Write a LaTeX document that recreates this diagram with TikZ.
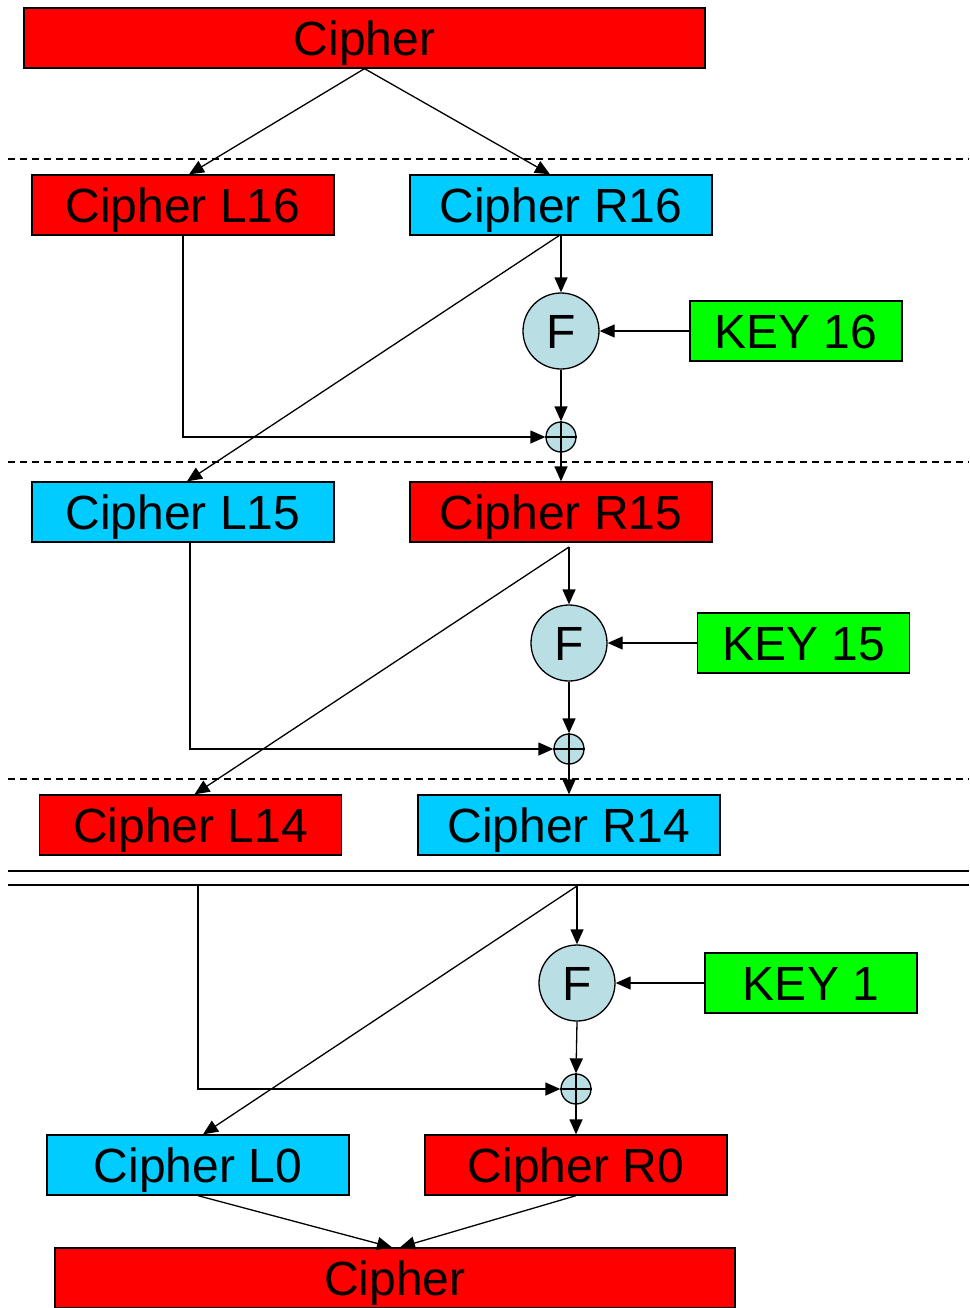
\documentclass[tikz,border=0pt]{standalone}
\usepackage{fontspec}
\setmainfont{Liberation Sans}
\usetikzlibrary{arrows.meta}
\definecolor{cred}{RGB}{255,0,0}
\definecolor{ccyan}{RGB}{0,204,255}
\definecolor{cgreen}{RGB}{0,255,0}
\definecolor{cfun}{RGB}{185,222,228}
\begin{document}
\begin{tikzpicture}[x=1pt,y=-1pt,
  every node/.style={font=\fontsize{48}{56}\selectfont, inner sep=0pt, text height=34.4pt, text depth=0pt},
  box/.style={draw=black, line width=1.3pt, minimum width=302pt, minimum height=60pt},
  redbox/.style={box, fill=cred},
  cyanbox/.style={box, fill=ccyan},
  keybox/.style={draw=black, line width=1.3pt, fill=cgreen, minimum width=212pt, minimum height=60pt},
  fun/.style={circle, draw=black, line width=1.3pt, fill=cfun, minimum size=76pt},
  xorn/.style={circle, draw=black, line width=1.3pt, fill=cfun, minimum size=30pt, text height=0pt},
  arr/.style={line width=1.3pt, -{Triangle[length=15pt,width=13pt]}},
  ln/.style={line width=1.3pt},
  sep/.style={line width=1.3pt, dash pattern=on 7pt off 5pt}
]
\useasboundingbox (0,0) rectangle (969,1308);

% top cipher
\node[box, fill=cred, minimum width=681pt] (C0) at (364.5,38) {Cipher};

% separators
\draw[sep] (8,159) -- (969,159);
\draw[sep] (8,462) -- (969,462);
\draw[sep] (8,779) -- (969,779);
\draw[ln] (8,871) -- (969,871);
\draw[ln] (8,885) -- (969,885);

% stage 16
\node[redbox] (L16) at (183,205) {Cipher L16};
\node[cyanbox] (R16) at (561,205) {Cipher R16};
\node[fun] (F1) at (561,331) {F};
\node[keybox] (K16) at (796,331) {KEY 16};
\node[xorn] (X1) at (561,437) {};
\draw[ln] (X1.north) -- (X1.south) (X1.west) -- (X1.east);

% stage 15
\node[cyanbox] (L15) at (183,512) {Cipher L15};
\node[redbox] (R15) at (561,512) {Cipher R15};
\node[fun] (F2) at (569,643) {F};
\node[keybox] (K15) at (803.5,643) {KEY 15};
\node[xorn] (X2) at (569,749) {};
\draw[ln] (X2.north) -- (X2.south) (X2.west) -- (X2.east);

% stage 14
\node[redbox] (L14) at (190.5,825) {Cipher L14};
\node[cyanbox] (R14) at (569,825) {Cipher R14};

% stage 1
\coordinate (t1) at (198,885);
\coordinate (t2) at (577,886);
\node[fun] (F3) at (577,983) {F};
\node[keybox] (K1) at (811,983) {KEY 1};
\node[xorn] (X3) at (576,1089) {};
\draw[ln] (X3.north) -- (X3.south) (X3.west) -- (X3.east);

\node[cyanbox] (L0) at (198,1165) {Cipher L0};
\node[redbox] (R0) at (576,1165) {Cipher R0};

\node[box, fill=cred, minimum width=680pt] (CB) at (395,1278) {Cipher};

% connectors top
\draw[arr] (C0.south) -- ([xshift=6pt]L16.north);
\draw[arr] (C0.south) -- ([xshift=-11pt]R16.north);

% stage 16 connectors
\draw[arr] (R16.south) -- (F1.north);
\draw[arr] (K16.west) -- (F1.east);
\draw[arr] (F1.south) -- (X1.north);
\draw[arr] (L16.south) |- (X1.west);
\draw[arr] ([xshift=-2pt]R16.south) -- ([xshift=4pt]L15.north);
\draw[arr] (X1.south) -- (R15.north);

% stage 15 connectors
\coordinate (s2) at (569,547);
\draw[arr] (s2) -- (F2.north);
\draw[arr] (K15.west) -- (F2.east);
\draw[arr] (F2.south) -- (X2.north);
\draw[arr] ([xshift=7pt]L15.south) |- (X2.west);
\draw[arr] (s2) -- ([xshift=4pt]L14.north);
\draw[arr] (X2.south) -- (R14.north);

% stage 1 connectors
\draw[arr] (t2) -- (F3.north);
\draw[arr] (K1.west) -- (F3.east);
\draw[arr] (F3.south) -- (X3.north);
\draw[arr] (t1) |- (X3.west);
\draw[arr] (t2) -- ([xshift=5pt]L0.north);
\draw[arr] (X3.south) -- (R0.north);

% final
\draw[arr] (L0.south) -- ([xshift=-3pt]CB.north);
\draw[arr] (R0.south) -- ([xshift=5pt]CB.north);
\end{tikzpicture}
\end{document}
